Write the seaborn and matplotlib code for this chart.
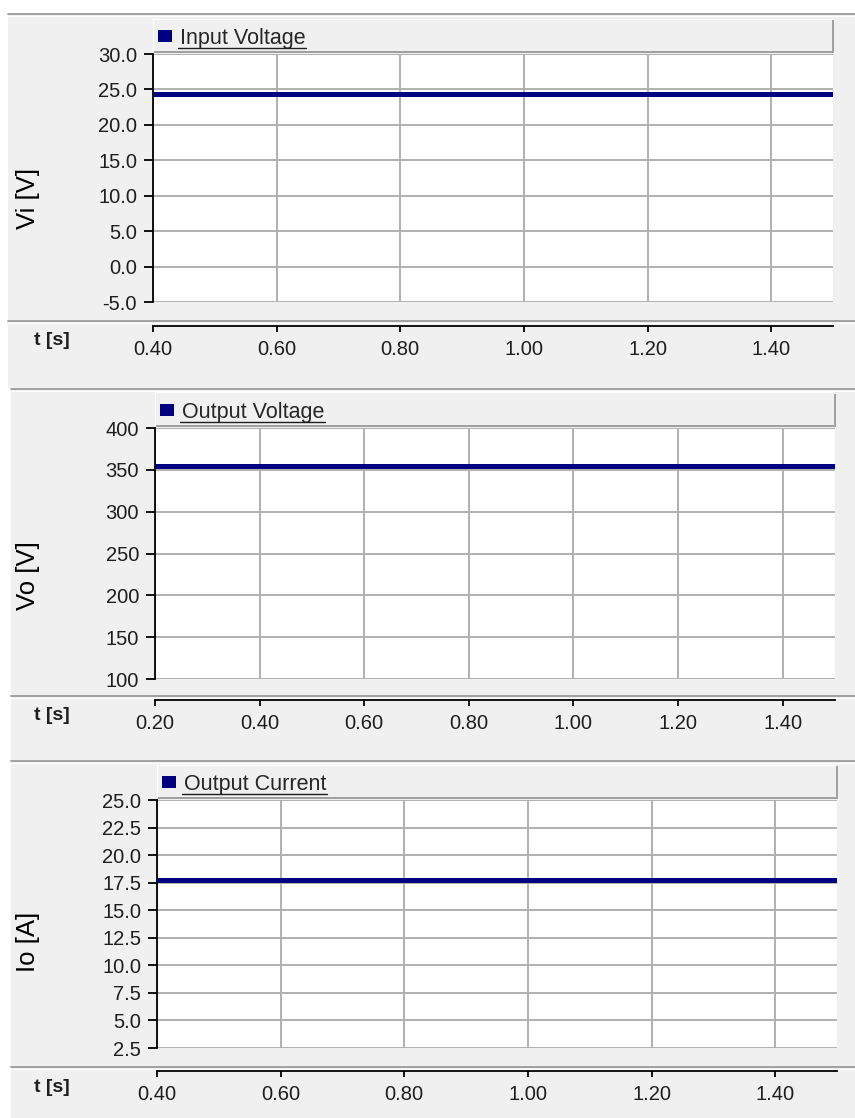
import numpy as np
import pandas as pd
import seaborn as sns
import matplotlib
matplotlib.use("Agg")
import matplotlib.pyplot as plt
from matplotlib.patches import Rectangle, Patch
from matplotlib.lines import Line2D

# ---- series data -------------------------------------------------------
t_in = [0.40, 1.50]
v_in = [24.3, 24.3]

t_out = [0.20, 1.50]
v_out = [354.0, 354.0]

t_cur = [0.40, 1.50]
i_out = [17.7, 17.7]

series_names = ["Input Voltage", "Output Voltage", "Output Current"]
y_labels = ["Vi [V]", "Vo [V]", "Io [A]"]

# ---- axis ticks ---------------------------------------------------------
xticks_in = [0.40, 0.60, 0.80, 1.00, 1.20, 1.40]
xticks_out = [0.20, 0.40, 0.60, 0.80, 1.00, 1.20, 1.40]
xticks_cur = [0.40, 0.60, 0.80, 1.00, 1.20, 1.40]

yticks_in = [-5.0, 0.0, 5.0, 10.0, 15.0, 20.0, 25.0, 30.0]
yticks_out = [100, 150, 200, 250, 300, 350, 400]
yticks_cur = [2.5, 5.0, 7.5, 10.0, 12.5, 15.0, 17.5, 20.0, 22.5, 25.0]

xlims = [(0.40, 1.50), (0.20, 1.50), (0.40, 1.50)]

# ---- styling ------------------------------------------------------------
sns.set_theme(style="white")
plt.rcParams["font.family"] = ["Liberation Sans", "DejaVu Sans"]

NAVY = "#000080"
PANEL = "#f0f0f0"
GRID = "#b0b0b0"
EDGE = "#a0a0a0"
TXT = "#1e1e1e"

W, H = 855, 1118
fig = plt.figure(figsize=(W / 100, H / 100), dpi=100, facecolor="white")


def px_rect(l, t, r, b):
    return [l / W, 1 - b / H, (r - l) / W, (b - t) / H]


def px_box(l, t, r, b, color, z):
    fig.add_artist(Rectangle((l / W, 1 - b / H), (r - l) / W, (b - t) / H,
                             transform=fig.transFigure, facecolor=color,
                             edgecolor="none", zorder=z))


def hline(y, x0, x1, color, lw, z=-5):
    fig.add_artist(Line2D([x0 / W, x1 / W], [1 - y / H] * 2, transform=fig.transFigure,
                          color=color, lw=lw, zorder=z))


def vline(x, y0, y1, color, lw, z):
    fig.add_artist(Line2D([x / W] * 2, [1 - y0 / H, 1 - y1 / H], transform=fig.transFigure,
                          color=color, lw=lw, zorder=z))


# layout of each panel in pixels
layout = [
    dict(bg=(8, 14, 388), plot=(153, 54, 833, 302), axis_y=326, sep=321,
         ylab=(28, 198), tlab_y=341),
    dict(bg=(11, 389, 760), plot=(155, 428, 835, 679), axis_y=700, sep=696,
         ylab=(28, 576), tlab_y=715),
    dict(bg=(11, 761, H + 2), plot=(157, 800, 837, 1048), axis_y=1071, sep=1067,
         ylab=(28, 942), tlab_y=1087),
]

frames = [
    pd.DataFrame({"t": t_in, "value": v_in}),
    pd.DataFrame({"t": t_out, "value": v_out}),
    pd.DataFrame({"t": t_cur, "value": i_out}),
]
xticks_all = [xticks_in, xticks_out, xticks_cur]
yticks_all = [yticks_in, yticks_out, yticks_cur]
yfmt = ["{:.1f}", "{:d}", "{:.1f}"]

legends = []
for k in range(3):
    lay = layout[k]
    x0, ytop, ybot = lay["bg"]
    px_box(x0, ytop, W, ybot, PANEL, -10)
    hline(ytop, x0, W, EDGE, 1.4)
    hline(ytop + 1.6, x0, W, "white", 0.8)
    hline(lay["sep"], x0, W, EDGE, 1.4)
    hline(lay["sep"] + 1.6, x0, W, "white", 0.8)

    l, t, r, b = lay["plot"]

    # raised legend strip above the plot area
    bl, bt, br, bb = l - 1, t - 36, r - 1, t - 3
    px_box(bl + 2, bt + 2, br + 2, bb + 2, EDGE, -4)
    px_box(bl, bt, br, bb, PANEL, -3)
    hline(bt + 0.5, bl, br, "white", 0.8, z=-2)
    vline(bl + 0.5, bt, bb, "white", 0.8, z=-2)

    ax = fig.add_axes(px_rect(l, t, r, b))
    ax.set_facecolor("white")

    sns.lineplot(data=frames[k], x="t", y="value", ax=ax, color=NAVY, lw=3.6,
                 solid_capstyle="butt", legend=False, zorder=3)

    ax.set_xlim(*xlims[k])
    yt = yticks_all[k]
    ax.set_ylim(yt[0], yt[-1])
    ax.set_xticks(xticks_all[k])
    ax.set_xticklabels([f"{v:.2f}" for v in xticks_all[k]])
    ax.set_yticks(yt)
    ax.set_yticklabels([yfmt[k].format(v) for v in yt])

    ax.grid(True, color=GRID, lw=1.4)
    ax.set_axisbelow(True)
    for s in ("top", "right"):
        ax.spines[s].set_visible(False)
    ax.spines["left"].set_color("black")
    ax.spines["left"].set_linewidth(1.3)
    ax.spines["bottom"].set_color("black")
    ax.spines["bottom"].set_linewidth(1.3)
    ax.spines["bottom"].set_position(("outward", (lay["axis_y"] - b) * 0.72))

    ax.tick_params(axis="y", direction="out", length=6.5, width=1.3, pad=5,
                   labelsize=14.5, color="black", labelcolor=TXT, left=True)
    ax.tick_params(axis="x", direction="out", length=4.5, width=1.3, pad=5.5,
                   labelsize=14.5, color="black", labelcolor=TXT, bottom=True)

    ax.set_xlabel("")
    ax.set_ylabel(y_labels[k], fontsize=18.5, color="black")
    ax.yaxis.label.set_va("center")
    yl_x, yl_y = lay["ylab"]
    ax.yaxis.set_label_coords((yl_x - l) / (r - l), 1 - (yl_y - t) / (b - t))

    fig.text(52 / W, 1 - lay["tlab_y"] / H, "t [s]", ha="center", va="center",
             fontsize=14, fontweight="bold", color=TXT)

    leg = ax.legend(handles=[Patch(facecolor=NAVY, edgecolor="none")],
                    labels=[series_names[k]], loc="lower left",
                    bbox_to_anchor=(0.5 / (r - l), 1 + 1.0 / (b - t), 1.0, 0.05),
                    borderaxespad=0, frameon=False,
                    handlelength=0.65, handleheight=0.42, handletextpad=0.4,
                    borderpad=0.2, fontsize=15.5)
    leg.set_zorder(5)
    legends.append(leg)

# underline the legend labels
fig.canvas.draw()
renderer = fig.canvas.get_renderer()
for leg in legends:
    txt = leg.get_texts()[0]
    bbx = txt.get_window_extent(renderer)
    fig.add_artist(Line2D([(bbx.x0 - 2) / W, bbx.x1 / W], [(bbx.y0 + 0.5) / H] * 2,
                          transform=fig.transFigure, color=TXT, lw=1.0, zorder=10))

fig.savefig("out.png", dpi=100, facecolor="white")
